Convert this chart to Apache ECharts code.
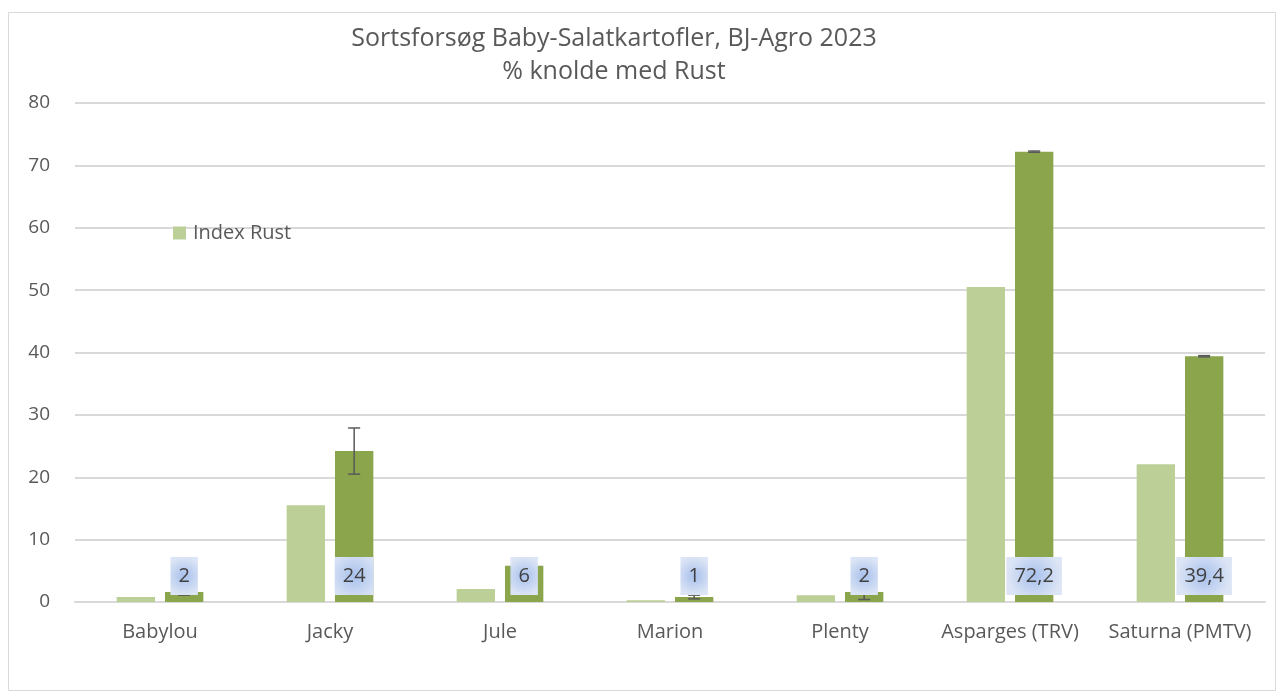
<!DOCTYPE html>
<html>
<head>
<meta charset="utf-8">
<script src="https://cdn.jsdelivr.net/npm/echarts@6/dist/echarts.min.js"></script>
<style>
  html, body { margin: 0; padding: 0; background: #fff; }
  #chart { width: 1283px; height: 697px; }
</style>
</head>
<body>
<div id="chart"></div>
<script>
// sorter
const categories = ["Babylou", "Jacky", "Jule", "Marion", "Plenty", "Asparges (TRV)", "Saturna (PMTV)"];
// lys grøn - Index Rust
const indexRust = [0.8, 15.5, 2.1, 0.3, 1.1, 50.5, 22.1];
// mørk grøn - % knolde med rust
const pctRust = [1.6, 24.2, 5.8, 0.8, 1.6, 72.2, 39.4];
// fejllinjer (+/-)
const pctErr = [0.5, 3.7, 0.2, 0.3, 1.2, 0.1, 0.1];
// datamærker
const pctLabels = ["2", "24", "6", "1", "2", "72,2", "39,4"];
const yTicks = [0, 10, 20, 30, 40, 50, 60, 70, 80];

const FONT = "Open Sans";
const GAP_CAT = 0.49;
const GAP_BAR = 0.26;

const labelBg = {
  type: "radial",
  x: 0.5,
  y: 0.5,
  r: 0.7,
  colorStops: [
    { offset: 0, color: "#a8c0ec" },
    { offset: 1, color: "#dce5f5" },
  ],
};

const chart = echarts.init(document.getElementById("chart"));

chart.setOption({
  animation: false,
  textStyle: { fontFamily: FONT },
  title: {
    text: "Sortsforsøg Baby-Salatkartofler, BJ-Agro 2023\n% knolde med Rust",
    left: 609,
    top: 17,
    textAlign: "center",
    textStyle: {
      fontFamily: FONT,
      fontWeight: "normal",
      fontSize: 25,
      lineHeight: 33,
      color: "#595959",
    },
  },
  legend: {
    data: ["Index Rust"],
    left: 168,
    top: 218,
    itemWidth: 13,
    itemHeight: 13,
    icon: "rect",
    textStyle: { fontFamily: FONT, fontSize: 20, color: "#595959", padding: [0, 0, 0, 2] },
  },
  grid: { left: 75, right: 18, top: 103, bottom: 95 },
  xAxis: {
    type: "category",
    data: categories,
    axisLine: { lineStyle: { color: "#d9d9d9", width: 2 } },
    axisTick: { show: false },
    axisLabel: { interval: 0, fontFamily: FONT, fontSize: 20, color: "#595959", margin: 20 },
  },
  yAxis: {
    type: "value",
    min: yTicks[0],
    max: yTicks[yTicks.length - 1],
    interval: 10,
    axisLine: { show: false },
    axisTick: { show: false },
    splitLine: { lineStyle: { color: "#d9d9d9", width: 2 } },
    axisLabel: { fontFamily: FONT, fontSize: 19, color: "#595959", margin: 25 },
  },
  series: [
    {
      name: "Index Rust",
      type: "bar",
      data: indexRust,
      barCategoryGap: GAP_CAT * 100 + "%",
      barGap: GAP_BAR * 100 + "%",
      itemStyle: { color: "#bbcf97" },
    },
    {
      name: "% knolde med Rust",
      type: "bar",
      data: pctRust,
      itemStyle: { color: "#8aa54c" },
    },
    {
      // fejllinjer + datamærker oven på søjlerne
      name: "fejl",
      type: "custom",
      z: 3,
      data: pctRust.map((v, i) => [i, v, pctErr[i]]),
      renderItem: function (params, api) {
        const i = api.value(0);
        const v = api.value(1);
        const e = api.value(2);
        const band = api.size([1, 0])[0];
        const barW = (band * (1 - GAP_CAT)) / (2 + GAP_BAR);
        const off = (barW * (1 + GAP_BAR)) / 2;
        const hi = api.coord([i, v + e]);
        const lo = api.coord([i, v - e]);
        const base = api.coord([i, 0]);
        const x = hi[0] + off;
        const cap = 6;
        const style = { stroke: "#595959", lineWidth: 1.5 };
        return {
          type: "group",
          children: [
            { type: "line", shape: { x1: x, y1: hi[1], x2: x, y2: lo[1] }, style },
            { type: "line", shape: { x1: x - cap, y1: hi[1], x2: x + cap, y2: hi[1] }, style },
            { type: "line", shape: { x1: x - cap, y1: lo[1], x2: x + cap, y2: lo[1] }, style },
            {
              type: "text",
              x: x,
              y: base[1] - 7,
              style: {
                text: pctLabels[params.dataIndex],
                fontFamily: FONT,
                fontSize: 20,
                lineHeight: 22,
                fill: "#404040",
                align: "center",
                verticalAlign: "bottom",
                padding: [8, 8],
                backgroundColor: labelBg,
              },
            },
          ],
        };
      },
    },
  ],
  graphic: [
    {
      type: "rect",
      silent: true,
      shape: { x: 8.5, y: 12.5, width: 1267, height: 678 },
      style: { fill: "none", stroke: "#d9d9d9", lineWidth: 1 },
    },
  ],
});
</script>
</body>
</html>
